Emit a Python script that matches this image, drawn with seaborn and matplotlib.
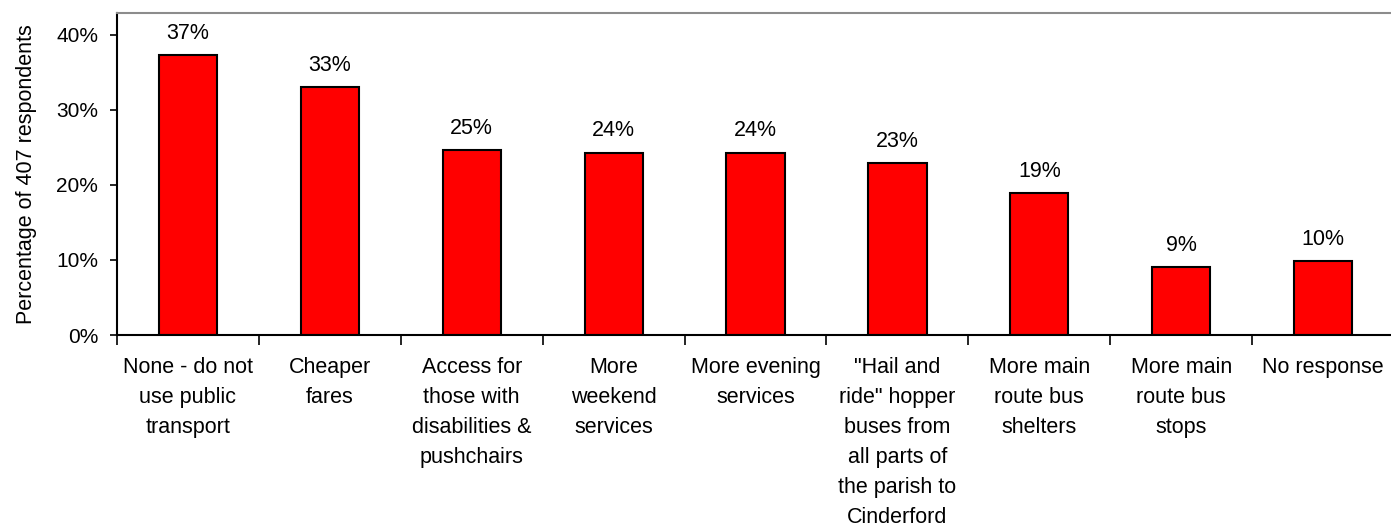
import matplotlib
matplotlib.use("Agg")
import matplotlib.pyplot as plt
from matplotlib.ticker import FixedLocator, PercentFormatter
import seaborn as sns
import pandas as pd

# Survey: improvements that would encourage use of public transport
categories = [
    "None - do not\nuse public\ntransport",
    "Cheaper\nfares",
    "Access for\nthose with\ndisabilities &\npushchairs",
    "More\nweekend\nservices",
    "More evening\nservices",
    "\"Hail and\nride\" hopper\nbuses from\nall parts of\nthe parish to\nCinderford",
    "More main\nroute bus\nshelters",
    "More main\nroute bus\nstops",
    "No response",
]
percentages = [37.3, 33.0, 24.6, 24.3, 24.3, 22.9, 18.9, 9.1, 9.8]
y_ticks = [0, 10, 20, 30, 40]
y_label = "Percentage of 407 respondents"

sns.set_theme(style="white")
plt.rcParams["font.family"] = ["Liberation Sans", "DejaVu Sans"]
plt.rcParams["text.color"] = "black"
plt.rcParams["axes.labelcolor"] = "black"
plt.rcParams["xtick.color"] = "black"
plt.rcParams["ytick.color"] = "black"

df = pd.DataFrame({"category": categories, "pct": percentages})

fig = plt.figure(figsize=(13.91, 5.26), dpi=100)
ax = fig.add_axes([0.0841, 0.3631, 0.9181, 0.6122])

sns.barplot(data=df, x="category", y="pct", color="#ff0000", saturation=1,
            edgecolor="black", linewidth=1.5, width=0.41, ax=ax)

ax.set_ylim(0, 42.9)
ax.set_xlim(-0.5, len(categories) - 0.5)
ax.yaxis.set_major_locator(FixedLocator(y_ticks))
ax.yaxis.set_major_formatter(PercentFormatter(decimals=0))

# value labels above each bar
for container in ax.containers:
    ax.bar_label(container, fmt="%.0f%%", padding=8, fontsize=15.5, color="black")

# category separators as ticks, labels centred under bars
ax.set_xticks([i - 0.5 for i in range(len(categories))], minor=True)
ax.set_xticks(range(len(categories)))
ax.set_xticklabels(categories, fontsize=15.5, linespacing=1.565, va="top")
ax.tick_params(axis="x", which="major", length=0, pad=16)
ax.tick_params(axis="x", which="minor", length=7, width=1.2, color="black",
               direction="out", bottom=True)
ax.tick_params(axis="y", length=5, width=1.2, color="black", direction="out",
               left=True, labelsize=15, pad=8.5)

ax.set_xlabel("")
ax.set_ylabel(y_label, fontsize=15.5, labelpad=14)

for side in ["left", "bottom"]:
    ax.spines[side].set_color("black")
    ax.spines[side].set_linewidth(1.5)
for side in ["top", "right"]:
    ax.spines[side].set_color("#8c8c8c")
    ax.spines[side].set_linewidth(1.5)
ax.grid(False)

fig.savefig("out.png", dpi=100, facecolor="white")
